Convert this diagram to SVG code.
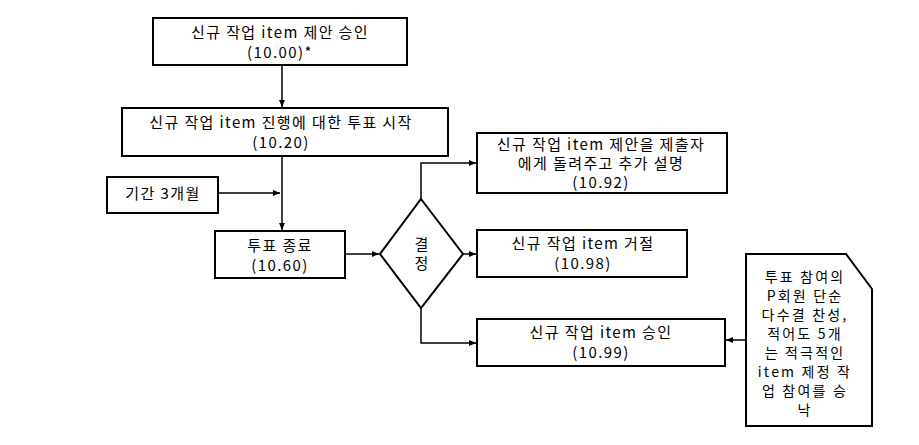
<svg xmlns="http://www.w3.org/2000/svg" width="919" height="445" viewBox="0 0 919 445">
<defs>
<style>
.box{fill:#fff;stroke:#000;stroke-width:2}
.t{font-family:"Noto Sans CJK KR","Noto Sans",sans-serif;font-size:15px;letter-spacing:1.4px;fill:#000;text-anchor:middle}
.s{font-size:14px;letter-spacing:2.2px}
.c{fill:none;stroke:#000;stroke-width:1.5}
</style>
<marker id="ah" markerWidth="8" markerHeight="8" refX="7" refY="4" orient="auto" markerUnits="userSpaceOnUse">
<path d="M0,1 L7,4 L0,7 z" fill="#000"/>
</marker>
</defs>
<rect width="919" height="445" fill="#fff"/>
<g id="connectors">
<path class="c" d="M282,65 V107" marker-end="url(#ah)"/>
<path class="c" d="M282,156 V230" marker-end="url(#ah)"/>
<path class="c" d="M218,193 H280" marker-end="url(#ah)"/>
<path class="c" d="M345,254 H379" marker-end="url(#ah)"/>
<path class="c" d="M421,199 V163 H476" marker-end="url(#ah)"/>
<path class="c" d="M463,254 H476" marker-end="url(#ah)"/>
<path class="c" d="M421,308 V343 H476" marker-end="url(#ah)"/>
<path class="c" d="M746,340 H726" marker-end="url(#ah)"/>
</g>
<g id="n1"><rect class="box" x="153" y="18" width="254" height="47"/>
<text class="t" x="280" y="38">신규 작업 item 제안 승인</text><text class="t" x="280" y="58">(10.00)*</text></g>
<g id="n2"><rect class="box" x="122" y="108" width="326" height="48"/>
<text class="t" x="281" y="128">신규 작업 item 진행에 대한 투표 시작</text><text class="t" x="281" y="148">(10.20)</text></g>
<g id="n3"><rect class="box" x="107" y="177" width="111" height="36"/>
<text class="t" x="163" y="199">기간 3개월</text></g>
<g id="n4"><rect class="box" x="215" y="231" width="130" height="47"/>
<text class="t" x="280" y="251">투표 종료</text><text class="t" x="280" y="271">(10.60)</text></g>
<g id="n5"><path class="box" d="M421,199 L463,254 L421,308 L380,254 Z"/>
<text class="t" x="422" y="250">결</text><text class="t" x="422" y="269">정</text></g>
<g id="n6"><rect class="box" x="477" y="133" width="250" height="60"/>
<text class="t" x="601" y="150">신규 작업 item 제안을 제출자</text><text class="t" x="601" y="169">에게 돌려주고 추가 설명</text><text class="t" x="601" y="188">(10.92)</text></g>
<g id="n7"><rect class="box" x="477" y="230" width="210" height="47"/>
<text class="t" x="583" y="249">신규 작업 item 거절</text><text class="t" x="583" y="269">(10.98)</text></g>
<g id="n8"><rect class="box" x="477" y="319" width="248" height="47"/>
<text class="t" x="601" y="338">신규 작업 item 승인</text><text class="t" x="601" y="358">(10.99)</text></g>
<g id="n9"><path class="box" d="M746,254 H846 L872,289 V426 H746 Z"/>
<text class="t s" x="805" y="282">투표 참여의</text>
<text class="t s" x="805" y="301">P회원 단순</text>
<text class="t s" x="805" y="320">다수결 찬성,</text>
<text class="t s" x="805" y="339">적어도 5개</text>
<text class="t s" x="805" y="358">는 적극적인</text>
<text class="t s" x="805" y="377">item 제정 작</text>
<text class="t s" x="805" y="396">업 참여를 승</text>
<text class="t s" x="805" y="415">낙</text></g>
</svg>
